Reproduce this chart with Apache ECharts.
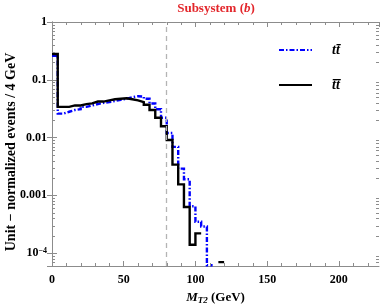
<!DOCTYPE html>
<html>
<head>
<meta charset="utf-8">
<script src="https://cdn.jsdelivr.net/npm/echarts@6/dist/echarts.min.js"></script>
<style>
html,body{margin:0;padding:0;background:#fff;}
#chart{width:382px;height:305px;}
</style>
</head>
<body>
<div id="chart"></div>
<script>
// ---- data (unit-normalized events per 4 GeV bin, bins start at 0) ----
const binWidth = 4;
const ttValues = [0.26, 0.026, 0.028, 0.030, 0.031, 0.034, 0.036, 0.038, 0.040, 0.041,
                  0.043, 0.045, 0.047, 0.050, 0.052, 0.051, 0.047, 0.039, 0.031, 0.022,
                  0.012, 0.0069, 0.0029, 0.0019, 0.00065, 0.00035, 0.00029, 0.000062, 0, 0];
const tbtbValues = [0.28, 0.034, 0.034, 0.036, 0.036, 0.038, 0.039, 0.042, 0.042, 0.044,
                    0.046, 0.047, 0.048, 0.046, 0.044, 0.041, 0.037, 0.030, 0.022, 0.0157,
                    0.0091, 0.0034, 0.00155, 0.00063, 0.00014, 0.00022, 0, 0, 0, 0.00007];
const binStarts = ttValues.map((_, i) => i * binWidth);
const seriesNames = ['tt\u0304', 't\u0304t\u0304'];
const wMass = 80;
const xMajorTicks = [0, 50, 100, 150, 200];
const xRange = [0, 228];
const yRange = [6e-5, 1];

function stepPoints(values) {
  const pts = [];
  let prevZero = true;
  values.forEach((v, i) => {
    const lo = binStarts[i], hi = lo + binWidth;
    if (v > 0) { pts.push([lo, v]); pts.push([hi, v]); prevZero = false; }
    else { if (!prevZero) pts.push([lo, '-']); prevZero = true; }
  });
  return pts;
}

const xMinor = [];
for (let v = xRange[0]; v < xRange[1]; v += 10) if (xMajorTicks.indexOf(v) < 0) xMinor.push(v);
const yMinor = [];
for (let d = -5; d < 0; d++) for (let k = 2; k <= 9; k++) {
  const v = k * Math.pow(10, d);
  if (v > yRange[0] && v < yRange[1]) yMinor.push(v);
}

const frameColor = '#8c8c8c';
const serif = 'Liberation Serif';
const chart = echarts.init(document.getElementById('chart'), null, {renderer: 'canvas'});

function yLabel(v) {
  const lv = Math.log10(v);
  if (Math.abs(lv - Math.round(lv)) > 1e-6) return '';
  const e = Math.round(lv);
  if (e === 0) return '1';
  if (e >= -3) return v.toFixed(-e);
  return '{b|10}{s|\u2212' + (-e) + '}';
}

const option = {
  animation: false,
  backgroundColor: '#fff',
  grid: {left: 52, right: 3, top: 22, bottom: 39, containLabel: false, outerBoundsMode: 'none'},
  graphic: [{
    type: 'text', x: 216, y: 9,
    style: {
      text: 'Subsystem ({i|b})', fill: '#e3262b', font: 'bold 13px "Liberation Serif"',
      align: 'center', verticalAlign: 'middle',
      rich: {i: {fontStyle: 'italic', fontWeight: 'bold', fontSize: 13, fontFamily: serif, fill: '#e3262b'}}
    }
  }],
  legend: {
    orient: 'vertical', left: 273, top: 38, itemWidth: 33, itemHeight: 14, itemGap: 21,
    data: seriesNames, itemStyle: {opacity: 0},
    formatter: name => '{g|}{t|' + name + '}',
    textStyle: {fontFamily: serif, fontStyle: 'italic', fontWeight: 'bold', fontSize: 14, color: '#000',
      rich: {g: {width: 15}, t: {fontFamily: serif, fontStyle: 'italic', fontWeight: 'bold', fontSize: 14, color: '#000'}}}
  },
  xAxis: [{
    type: 'value', min: xRange[0], max: xRange[1], interval: 50,
    name: '{i|M}{s|T2} (GeV)', nameLocation: 'middle', nameGap: 24,
    nameTextStyle: {fontFamily: serif, fontWeight: 'bold', fontSize: 13, color: '#000',
      rich: {i: {fontFamily: serif, fontStyle: 'italic', fontWeight: 'bold', fontSize: 13},
             s: {fontFamily: serif, fontStyle: 'italic', fontWeight: 'bold', fontSize: 9, verticalAlign: 'bottom', padding: [6, 0, 0, 0]}}},
    axisLine: {show: true, lineStyle: {color: frameColor, width: 1}},
    axisTick: {show: true, inside: true, length: 5, lineStyle: {color: frameColor}},
    axisLabel: {fontFamily: serif, fontWeight: 'bold', fontSize: 12, color: '#000', margin: 8, showMaxLabel: false,
      formatter: v => (xMajorTicks.indexOf(v) >= 0 ? String(v) : '')},
    splitLine: {show: false}
  }, {
    type: 'value', position: 'top', min: xRange[0], max: xRange[1], interval: 50,
    axisLine: {show: true, lineStyle: {color: frameColor, width: 1}},
    axisTick: {show: true, inside: true, length: 5, lineStyle: {color: frameColor}},
    axisLabel: {show: false}, splitLine: {show: false}
  }],
  yAxis: [{
    type: 'log', logBase: 10, min: yRange[0], max: yRange[1],
    name: 'Unit \u2212 normalized events / 4 GeV', nameLocation: 'middle', nameGap: 34,
    nameMoveOverlap: false,
    nameTextStyle: {fontFamily: serif, fontWeight: 'bold', fontSize: 14, color: '#000', padding: [0, 16, 0, 0]},
    axisLine: {show: true, lineStyle: {color: frameColor, width: 1}},
    axisTick: {show: true, inside: true, length: 5, lineStyle: {color: frameColor}},
    axisLabel: {fontFamily: serif, fontWeight: 'bold', fontSize: 12, color: '#000', margin: 5,
      formatter: yLabel,
      rich: {b: {fontFamily: serif, fontWeight: 'bold', fontSize: 12, lineHeight: 12, color: '#000'},
             s: {fontFamily: serif, fontWeight: 'bold', fontSize: 8, lineHeight: 8, color: '#000', verticalAlign: 'top'}}},
    splitLine: {show: false}
  }, {
    type: 'log', logBase: 10, position: 'right', min: yRange[0], max: yRange[1],
    axisLine: {show: true, lineStyle: {color: frameColor, width: 1}},
    axisTick: {show: true, inside: true, length: 5, lineStyle: {color: frameColor}},
    axisLabel: {show: false}, splitLine: {show: false}
  }],
  series: [{
    name: seriesNames[0], type: 'line', data: stepPoints(ttValues),
    symbol: 'none', showSymbol: false, connectNulls: false, clip: true,
    lineStyle: {color: '#0000ff', width: 2.4, type: [5, 2, 1.5, 2], cap: 'butt', join: 'miter'},
    itemStyle: {color: '#0000ff'}, z: 3,
    markLine: {
      silent: true, symbol: ['none', 'none'], label: {show: false},
      lineStyle: {color: '#b4b4b4', width: 1.3, type: [5, 4]},
      data: [{xAxis: wMass}]
    }
  }, {
    name: seriesNames[1], type: 'line', data: stepPoints(tbtbValues),
    symbol: 'none', showSymbol: false, connectNulls: false, clip: true,
    lineStyle: {color: '#000', width: 2.4, type: 'solid', cap: 'butt', join: 'miter'},
    itemStyle: {color: '#000'}, z: 4
  }, {
    type: 'custom', coordinateSystem: 'cartesian2d',
    silent: true, clip: false, z: 5, data: [[0, 1]],
    renderItem: function (params, api) {
      const cs = params.coordSys;
      const children = [];
      const st = {stroke: frameColor, lineWidth: 1};
      const L = 3;
      xMinor.forEach(v => {
        const x = Math.round(api.coord([v, 1])[0]) + 0.5;
        children.push({type: 'line', shape: {x1: x, y1: cs.y + cs.height, x2: x, y2: cs.y + cs.height - L}, style: st});
        children.push({type: 'line', shape: {x1: x, y1: cs.y, x2: x, y2: cs.y + L}, style: st});
      });
      yMinor.forEach(v => {
        const y = Math.round(api.coord([xRange[0], v])[1]) + 0.5;
        children.push({type: 'line', shape: {x1: cs.x, y1: y, x2: cs.x + L, y2: y}, style: st});
        children.push({type: 'line', shape: {x1: cs.x + cs.width, y1: y, x2: cs.x + cs.width - L, y2: y}, style: st});
      });
      return {type: 'group', children: children};
    }
  }]
};
chart.setOption(option);
</script>
</body>
</html>
